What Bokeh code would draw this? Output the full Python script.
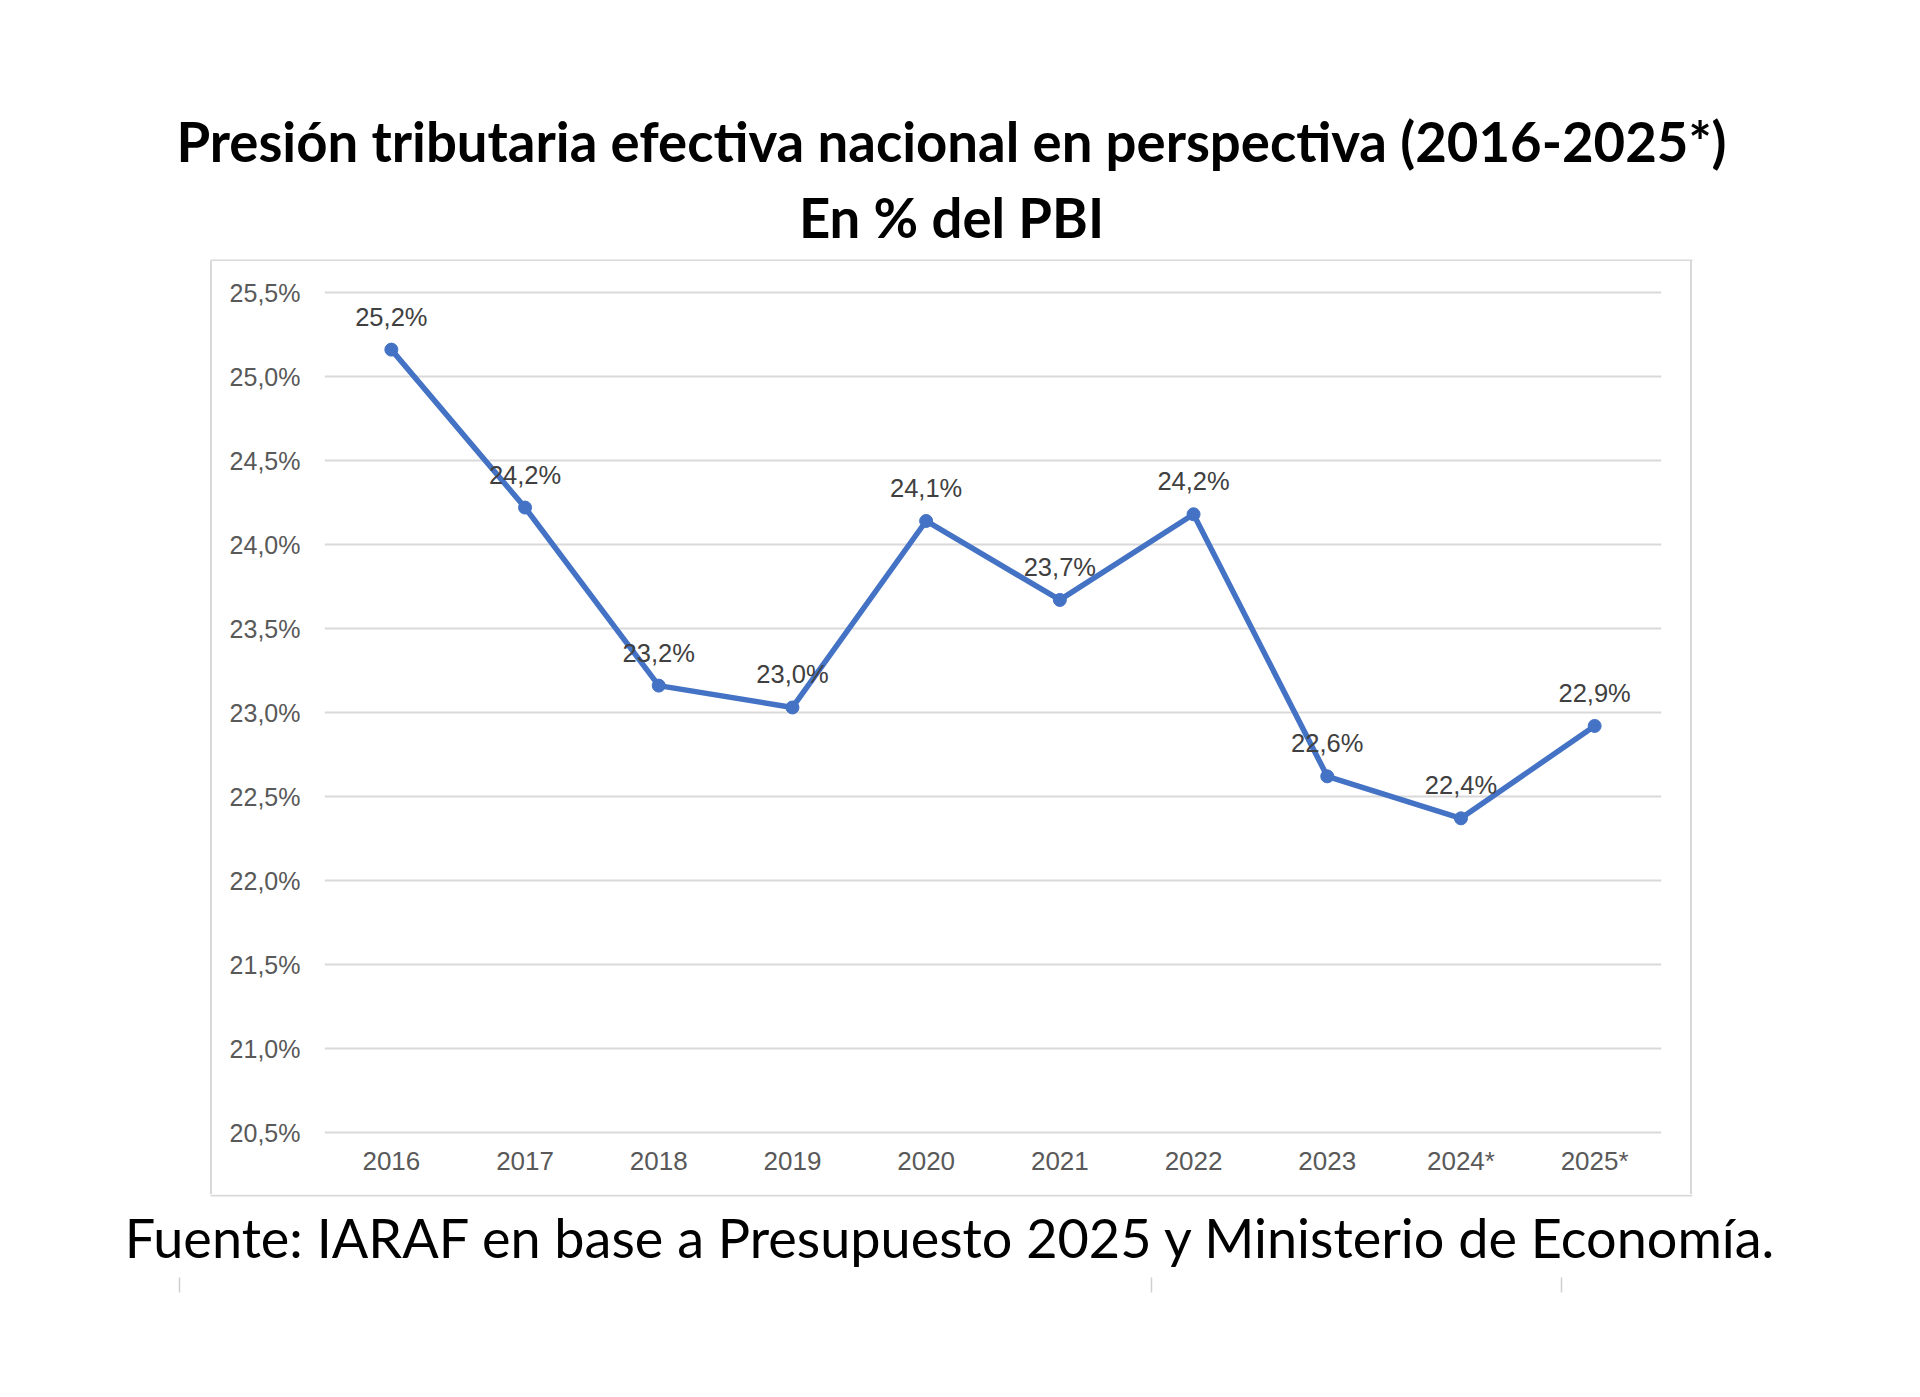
from bokeh.plotting import figure
from bokeh.layouts import column, row
from bokeh.models import (ColumnDataSource, LabelSet, Label, FixedTicker,
                          Range1d, FactorRange, Div, Spacer)
from bokeh.core.properties import value
from bokeh.embed import file_html
from bokeh.resources import INLINE

# ---- data ----
years = ["2016", "2017", "2018", "2019", "2020", "2021", "2022", "2023", "2024*", "2025*"]
presion = [25.16, 24.22, 23.16, 23.03, 24.14, 23.67, 24.18, 22.62, 22.37, 22.92]
y_ticks = [20.5, 21.0, 21.5, 22.0, 22.5, 23.0, 23.5, 24.0, 24.5, 25.0, 25.5]
title_1 = "Presión tributaria efectiva nacional en perspectiva (2016-2025*)"
title_2 = "En % del PBI"
footer = "Fuente: IARAF en base a Presupuesto 2025 y Ministerio de Economía."


def pct(v):
    return f"{v:.1f}".replace(".", ",") + "%"


labels = [pct(v) for v in presion]

BOX = "#d9d9d9"
BLUE = "#4472C4"


def blank(w, h):
    f = figure(width=w, height=h, x_range=Range1d(0, w), y_range=Range1d(h, 0),
               x_axis_type=None, y_axis_type=None, min_border=0,
               output_backend="svg", toolbar_location=None)
    f.outline_line_color = None
    f.background_fill_color = "white"
    f.border_fill_color = "white"
    return f


def vline(h):
    return Div(text="", width=2, height=h, margin=0,
               styles={"background-color": BOX})


# ---- title strip ----
top = blank(1920, 261)
top.add_layout(Label(x=951, y=140, text=title_1, text_align="center",
                     text_baseline="alphabetic", text_font="Lato",
                     text_font_style="bold", text_font_size="54.5px",
                     text_color="black"))
top.add_layout(Label(x=951, y=216.5, text=title_2, text_align="center",
                     text_baseline="alphabetic", text_font="Lato",
                     text_font_style="bold", text_font_size="54.5px",
                     text_color="black"))
top.line(x=[210, 1692], y=[260, 260], line_color=BOX, line_width=2)

# ---- chart ----
MID_H = 933
pad = 4 / 168
src = ColumnDataSource(dict(year=years, val=presion, lab=labels))
p = figure(x_range=FactorRange(*years),
           y_range=Range1d(y_ticks[0] - pad, y_ticks[-1] + pad),
           width=1478, height=MID_H, output_backend="svg", toolbar_location=None,
           min_border_left=112, min_border_right=29,
           min_border_top=27, min_border_bottom=58)
p.background_fill_color = "white"
p.border_fill_color = "white"
p.outline_line_color = None

p.line("year", "val", source=src, line_color=BLUE, line_width=5.5)
p.scatter("year", "val", source=src, size=13, fill_color=BLUE, line_color=BLUE)
p.add_layout(LabelSet(x="year", y="val", text="lab", source=src,
                      text_align="center", text_baseline="alphabetic",
                      y_offset=24, text_font=value("Liberation Sans"),
                      text_font_size="25.5px", text_color="#404040"))

p.xgrid.grid_line_color = None
p.ygrid.grid_line_color = BOX
p.ygrid.grid_line_width = 2
p.yaxis.ticker = FixedTicker(ticks=y_ticks)
p.yaxis.major_label_overrides = {t: pct(t) for t in y_ticks}
for ax in (p.xaxis[0], p.yaxis[0]):
    ax.axis_line_color = None
    ax.major_tick_line_color = None
    ax.minor_tick_line_color = None
    ax.major_tick_out = 0
    ax.major_tick_in = 0
    ax.major_label_text_font = "Liberation Sans"
    ax.major_label_text_color = "#595959"
p.xaxis.major_label_text_font_size = "26px"
p.yaxis.major_label_text_font_size = "25px"
p.xaxis.major_label_standoff = 9
p.yaxis.major_label_standoff = 24

# ---- footer strip ----
bot = blank(1920, 200)
bot.line(x=[210, 1692], y=[1, 1], line_color=BOX, line_width=2)
bot.add_layout(Label(x=951, y=42.5, text=footer, text_align="center",
                     text_baseline="alphabetic", text_font="Lato",
                     text_font_size="54px", text_color="black"))
for mx in (179, 1151, 1561):
    bot.line(x=[mx, mx], y=[83, 98], line_color="#cfcfcf", line_width=1.5)

middle = row(Spacer(width=210, height=MID_H, margin=0), vline(MID_H), p,
             vline(MID_H))
layout = column(top, middle, bot)
open("out.html", "w").write(file_html(layout, INLINE))
